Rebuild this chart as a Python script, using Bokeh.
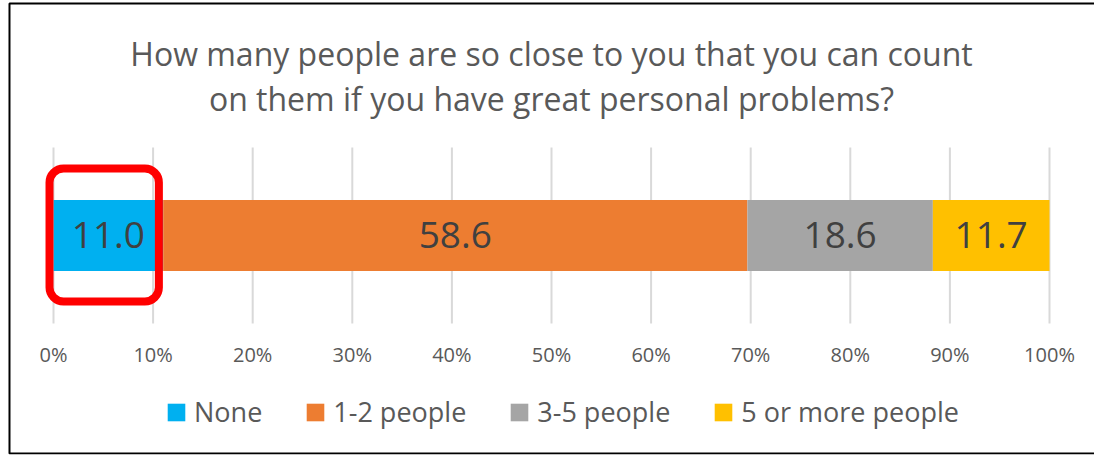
from bokeh.plotting import figure
from bokeh.models import Range1d, FixedTicker, Legend, LegendItem, BoxAnnotation, PolyAnnotation, Label
from bokeh.embed import file_html
from bokeh.resources import INLINE
from bokeh.core.properties import value

# ---- data -------------------------------------------------------------
title_lines = ["How many people are so close to you that you can count",
               "on them if you have great personal problems?"]
categories = ["None", "1-2 people", "3-5 people", "5 or more people"]
values = [11.0, 58.6, 18.6, 11.7]          # percent of respondents
data_labels = ["11.0", "58.6", "18.6", "11.7"]
colors = ["#00B0F0", "#ED7D31", "#A5A5A5", "#FFC000"]
tick_values = [0, 10, 20, 30, 40, 50, 60, 70, 80, 90, 100]
tick_labels = ["0%", "10%", "20%", "30%", "40%", "50%", "60%", "70%", "80%", "90%", "100%"]

# ---- layout -----------------------------------------------------------
W, H = 1094, 457
FONT = "Open Sans"
GREY = "#595959"

# plot band (grid area) is y in [0, 1]; x in percent
p = figure(width=W, height=H, output_backend="svg", toolbar_location=None,
           x_range=Range1d(-5.321, 104.518), y_range=Range1d(-0.7443, 1.8352),
           y_axis_location=None, min_border_left=0, min_border_right=0,
           min_border_top=0, min_border_bottom=3)
p.outline_line_color = None
p.background_fill_color = "white"
p.border_fill_color = "white"
p.xgrid.visible = False
p.ygrid.visible = False

# vertical grid lines (behind the bars)
p.segment(x0=tick_values, x1=tick_values, y0=[0] * len(tick_values), y1=[1] * len(tick_values),
          line_color="#D9D9D9", line_width=2)

# 100% stacked bar
total = sum(values)
shares = [v / total * 100 for v in values]
lefts = []
acc = 0.0
for s in shares:
    lefts.append(acc)
    acc += s
rights = [l + s for l, s in zip(lefts, shares)]
centers = [(l + r) / 2 for l, r in zip(lefts, rights)]

items = []
for cat, l, r, c in zip(categories, lefts, rights, colors):
    rend = p.hbar(y=0.5, left=l, right=r, height=0.402, fill_color=c, line_color=None)
    items.append(LegendItem(label=cat, renderers=[rend]))

p.text(x=centers, y=[0.5] * len(centers), text=data_labels,
       text_font=value(FONT), text_font_size="37px", text_color="#404040",
       text_align="center", text_baseline="middle")

# x axis (labels drawn just below the grid band)
ax = p.xaxis[0]
ax.ticker = FixedTicker(ticks=tick_values)
ax.major_label_overrides = dict(zip(tick_values, tick_labels))
ax.fixed_location = -0.2955
ax.axis_line_color = None
ax.major_tick_line_color = None
ax.minor_tick_line_color = None
ax.major_tick_out = 0
ax.major_tick_in = 0
ax.major_label_standoff = -35
ax.major_label_text_font = FONT
ax.major_label_text_font_size = "20px"
ax.major_label_text_color = GREY

# legend
legend = Legend(items=items, orientation="horizontal", location=(165, 24),
                label_text_font=FONT, label_text_font_size="27px", label_text_color=GREY,
                glyph_width=22, glyph_height=22, label_standoff=7, spacing=42,
                padding=0, margin=0, border_line_color=None, background_fill_alpha=0)
p.add_layout(legend)

# title
for txt, yy in zip(title_lines, [1.5341, 1.2784]):
    p.add_layout(Label(x=50, y=yy, text=txt, text_align="center", text_baseline="alphabetic",
                       text_font=FONT, text_font_size="32px", text_color=GREY))

# highlight box around first segment
p.add_layout(BoxAnnotation(left=-0.40, right=rights[0] - 0.43, bottom=0.125, top=0.8807,
                           fill_alpha=0, line_color="#FF0000", line_alpha=1.0, line_width=8,
                           border_radius=14, level="overlay"))

# chart-area border (left, top, bottom; right edge lies outside the picture)
p.add_layout(PolyAnnotation(xs=[130, -4.418, -4.418, 130], ys=[1.8182, 1.8182, -0.7386, -0.7386],
                            fill_alpha=0, line_color="black", line_alpha=1.0, line_width=2,
                            level="overlay"))

open("out.html", "w").write(file_html(p, INLINE))
